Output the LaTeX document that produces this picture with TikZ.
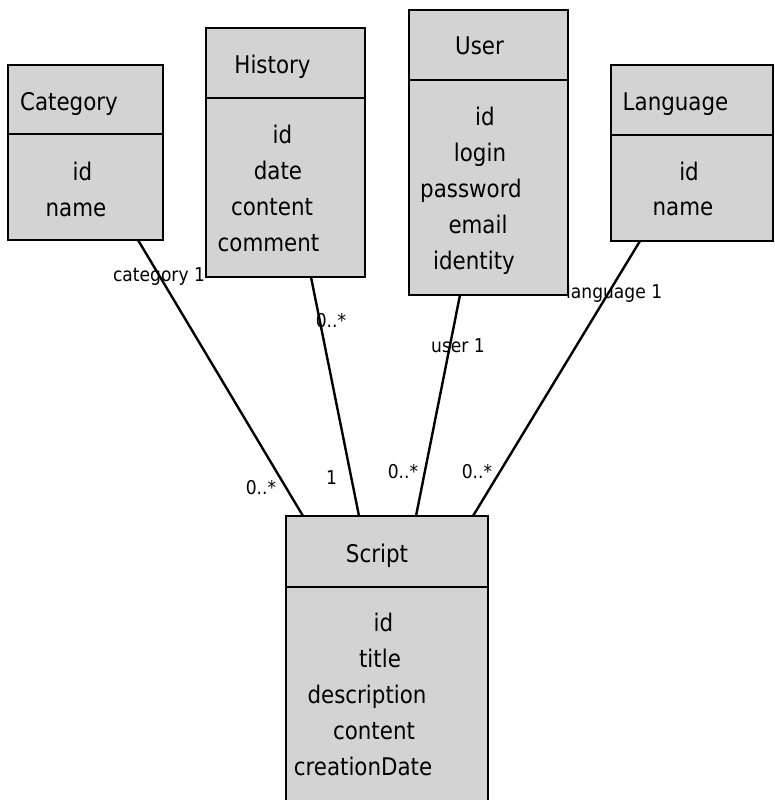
\documentclass[tikz,border=0pt]{standalone}
\usepackage{fontspec}
\setmainfont{DejaVu Sans}[FakeStretch=0.88]
\newfontfamily\lblfont{DejaVu Sans}[FakeStretch=0.9]
\definecolor{boxgray}{RGB}{211,211,211}
\begin{document}
\begin{tikzpicture}[x=1pt,y=-1pt,
  part/.style={draw=black,fill=boxgray,line width=2.5pt,inner sep=0pt,outer sep=0pt,anchor=north west},
  txt/.style={anchor=base,inner sep=0pt,font=\fontsize{24.3}{28}\selectfont},
  lbl/.style={anchor=base,inner sep=0pt,font=\lblfont\fontsize{19}{22}\selectfont},
  conn/.style={line width=2.4pt}]
\useasboundingbox (0,0) rectangle (774,800);
% labels (drawn first: boxes cover them)
\node[lbl] (l1) at (159,281) {category 1};
\node[lbl] (l2) at (331,327) {0..*};
\node[lbl] (l3) at (458,352) {user 1};
\node[lbl,anchor=base west] (l4) at (566,298) {language 1};
\node[lbl] (l5) at (261,494) {0..*};
\node[lbl] (l6) at (331.5,484) {1};
\node[lbl] (l7) at (403,478) {0..*};
\node[lbl] (l8) at (477,478) {0..*};
% boxes
\node[part,minimum width=155,minimum height=69] (cath) at (8,65) {};
\node[part,minimum width=155,minimum height=106] (catb) at (cath.south west) {};
\node[part,minimum width=159,minimum height=70] (hish) at (206,28) {};
\node[part,minimum width=159,minimum height=179] (hisb) at (hish.south west) {};
\node[part,minimum width=159,minimum height=70] (useh) at (409,10) {};
\node[part,minimum width=159,minimum height=215] (useb) at (useh.south west) {};
\node[part,minimum width=162,minimum height=70] (lanh) at (611,65) {};
\node[part,minimum width=162,minimum height=106] (lanb) at (lanh.south west) {};
\node[part,minimum width=202,minimum height=71] (scrh) at (286,516) {};
\node[part,minimum width=202,minimum height=230] (scrb) at (scrh.south west) {};
% connector end points on the borders
\coordinate (ca) at ([xshift=130pt]catb.south west);
\coordinate (hi) at ([xshift=105pt]hisb.south west);
\coordinate (us) at ([xshift=51pt]useb.south west);
\coordinate (la) at ([xshift=29pt]lanb.south west);
\coordinate (s1) at ([xshift=17pt]scrh.north west);
\coordinate (s2) at ([xshift=73pt]scrh.north west);
\coordinate (s3) at ([xshift=130pt]scrh.north west);
\coordinate (s4) at ([xshift=187pt]scrh.north west);
\draw[conn] (ca) -- (s1);
\draw[conn] (hi) -- (s2);
\draw[conn] (us) -- (s3);
\draw[conn] (la) -- (s4);
% texts
\node[txt] (t1) at (69,110) {Category};
\node[txt] (t2) at (82.5,180) {id};
\node[txt] (t3) at (76,216) {name};
\node[txt] (t4) at (272.5,74) {History};
\node[txt] (t5) at (282.5,143) {id};
\node[txt] (t6) at (278,179) {date};
\node[txt] (t7) at (272,215) {content};
\node[txt] (t8) at (268.5,251) {comment};
\node[txt] (t9) at (479.5,55) {User};
\node[txt] (t10) at (485,125) {id};
\node[txt] (t11) at (480,161) {login};
\node[txt] (t12) at (471,197) {password};
\node[txt] (t13) at (478,233) {email};
\node[txt] (t14) at (474,269) {identity};
\node[txt] (t15) at (675.5,110) {Language};
\node[txt] (t16) at (689,180) {id};
\node[txt] (t17) at (683,215) {name};
\node[txt] (t18) at (377,562) {Script};
\node[txt] (t19) at (383.5,631) {id};
\node[txt] (t20) at (380,667) {title};
\node[txt] (t21) at (367,703) {description};
\node[txt] (t22) at (374,739) {content};
\node[txt] (t23) at (363,775) {creationDate};
\end{tikzpicture}
\end{document}
